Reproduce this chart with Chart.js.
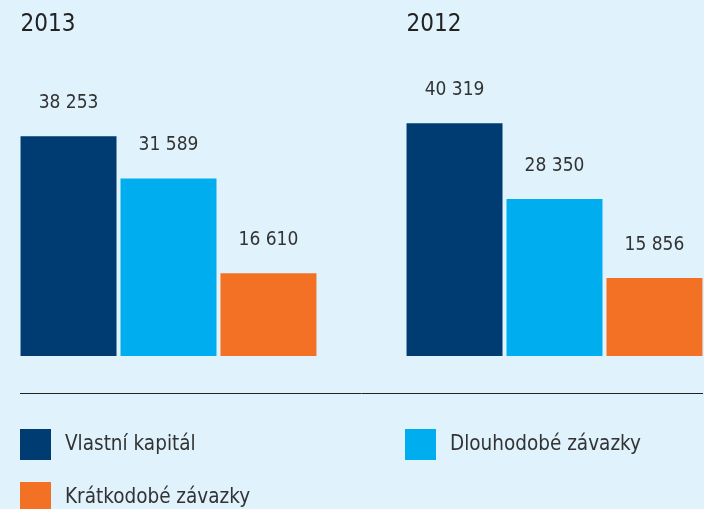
<!DOCTYPE html>
<html>
<head>
<meta charset="utf-8">
<script src="https://cdn.jsdelivr.net/npm/chart.js@4"></script>
<style>
  html, body { margin: 0; padding: 0; background: #e0f2fc; }
  #wrap { width: 704px; height: 509px; position: relative; overflow: hidden; }
</style>
</head>
<body>
<div id="wrap"><canvas id="chart" width="704" height="509"></canvas></div>
<script>
// chart data
const years = ["2013", "2012"];
const seriesNames = ["Vlastní kapitál", "Dlouhodobé závazky", "Krátkodobé závazky"];
const equity = [38253, 40319];
const longTerm = [31589, 28350];
const shortTerm = [16610, 15856];
const seriesColors = ["#003b71", "#00aeef", "#f37125"];

const Y_MIN = 3550;
const FONT = "'DejaVu Sans Condensed', 'DejaVu Sans', sans-serif";
const TEXT = "#333333";

// format numbers with a space as thousands separator
const fmt = (v) => String(v).replace(/\B(?=(\d{3})+(?!\d))/g, " ");

// draws year titles, value labels, separator and legend
const decor = {
  id: "decor",
  afterDatasetsDraw(chart) {
    const ctx = chart.ctx;
    ctx.save();
    ctx.fillStyle = TEXT;

    // value labels above each bar
    ctx.font = "19px " + FONT;
    ctx.textAlign = "center";
    ctx.textBaseline = "middle";
    chart.data.datasets.forEach((ds, di) => {
      chart.getDatasetMeta(di).data.forEach((bar, i) => {
        ctx.fillText(fmt(ds.data[i]), bar.x, bar.y - 33);
      });
    });

    // year titles at the left edge of each group
    ctx.font = "24px " + FONT;
    ctx.textAlign = "left";
    ctx.fillStyle = "#222222";
    const first = chart.getDatasetMeta(0).data;
    chart.data.labels.forEach((lab, i) => {
      ctx.fillText(lab, first[i].x - first[i].width / 2, 25);
    });

    // separator line
    ctx.strokeStyle = "#222222";
    ctx.lineWidth = 1;
    ctx.beginPath();
    ctx.moveTo(20, 393.5);
    ctx.lineTo(703, 393.5);
    ctx.stroke();

    // legend
    const spots = [[20, 429], [405, 429], [20, 482]];
    ctx.font = "20.5px " + FONT;
    chart.data.datasets.forEach((ds, di) => {
      const [x, y] = spots[di];
      ctx.fillStyle = ds.backgroundColor;
      ctx.fillRect(x, y, 31, 31);
      ctx.fillStyle = TEXT;
      ctx.fillText(ds.label, x + 45, y + 16);
    });
    ctx.restore();
  }
};

const seriesData = [equity, longTerm, shortTerm];

new Chart(document.getElementById("chart"), {
  type: "bar",
  data: {
    labels: years,
    datasets: seriesNames.map((name, i) => ({
      label: name,
      data: seriesData[i],
      backgroundColor: seriesColors[i],
      base: Y_MIN,
      clip: false,
    })),
  },
  options: {
    responsive: false,
    animation: false,
    layout: { padding: { left: 168.5, right: 149.5, top: 60, bottom: 153 } },
    categoryPercentage: 0.777,
    barPercentage: 0.96,
    scales: {
      x: { display: false, offset: false },
      y: { display: false, min: Y_MIN, max: 50290 },
    },
    plugins: {
      legend: { display: false },
      tooltip: { enabled: false },
    },
  },
  plugins: [decor],
});
</script>
</body>
</html>
